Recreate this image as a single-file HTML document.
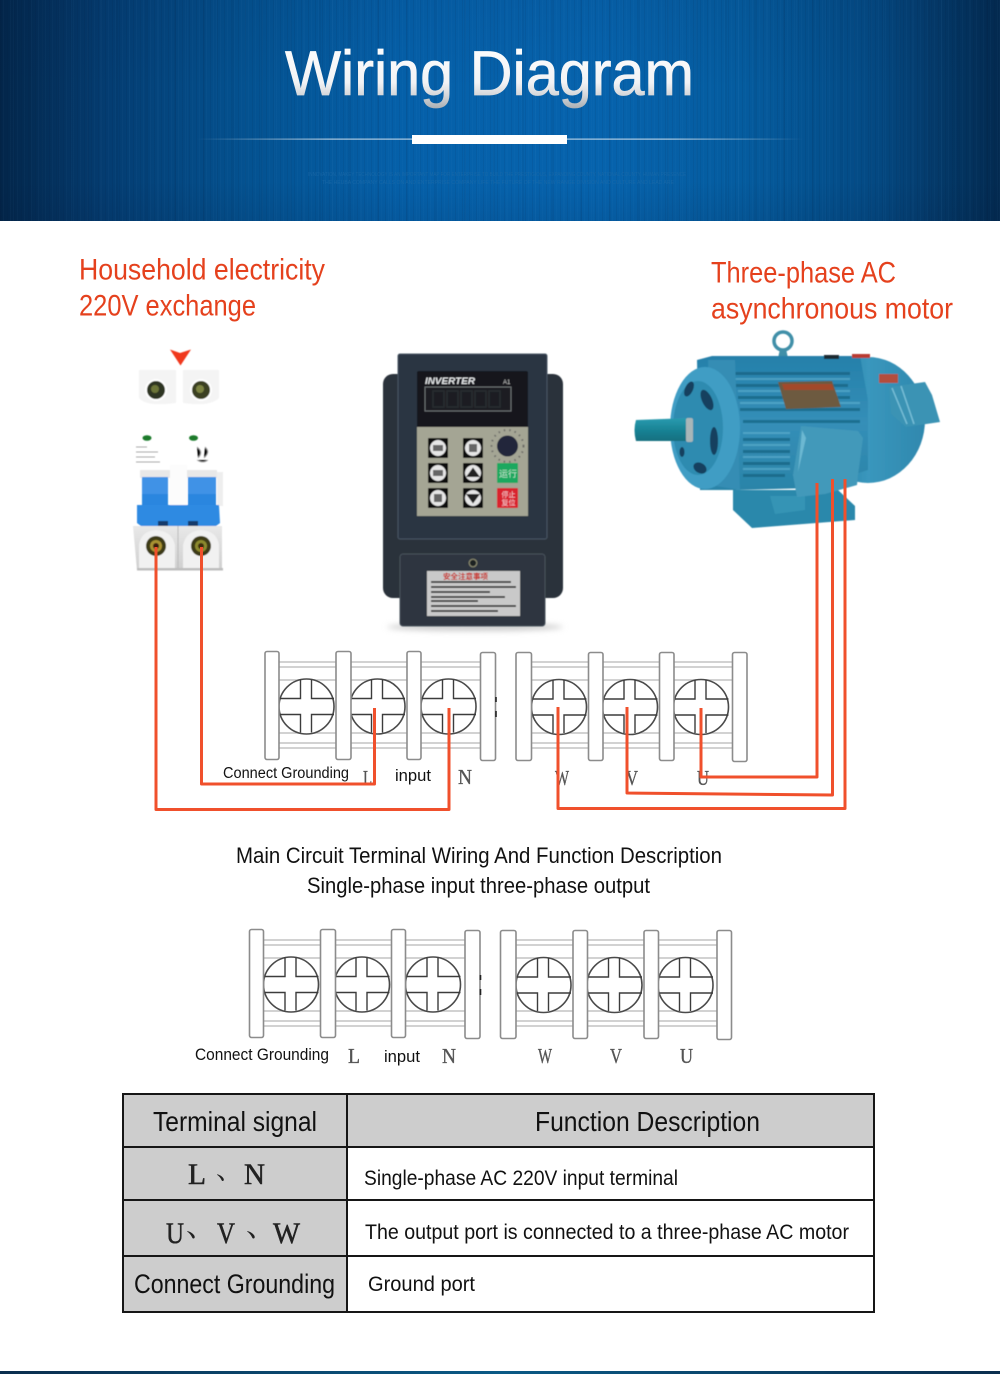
<!DOCTYPE html>
<html><head><meta charset="utf-8"><title>Wiring Diagram</title>
<style>
html,body{margin:0;padding:0;background:#fff}
#p{position:relative;width:1000px;height:1374px;overflow:hidden;background:#fff}
#h{position:absolute;left:0;top:0;width:1000px;height:221px;
background:
repeating-linear-gradient(90deg,rgba(0,20,50,.07) 0 1px,transparent 1px 3px,rgba(120,180,230,.03) 3px 4px,transparent 4px 7px),
repeating-linear-gradient(90deg,rgba(0,15,40,.05) 0 2px,transparent 2px 13px,rgba(100,170,230,.03) 13px 14px,transparent 14px 29px),
linear-gradient(180deg,rgba(0,25,60,.08) 0,rgba(0,20,50,0) 40%,rgba(0,20,50,0) 82%,rgba(0,20,50,.10) 100%),
linear-gradient(90deg,#03264a 0,#043d72 11%,#04518f 24%,#0560a9 40%,#0663ad 60%,#055c9f 74%,#044a84 87%,#032a50 100%)}
#b{position:absolute;left:0;top:1371px;width:1000px;height:3px;background:linear-gradient(90deg,#0a2e4e,#0a5a86 50%,#0a2e4e)}
svg{position:absolute;left:0;top:0}
text{font-family:"Liberation Sans","Noto Sans CJK SC",sans-serif}
.s{font-family:"Liberation Serif","Noto Serif CJK SC",serif}
</style></head><body><div id="p"><div id="h"></div><div id="b"></div>
<svg width="1000" height="1374" viewBox="0 0 1000 1374" xmlns="http://www.w3.org/2000/svg">
<defs>
<linearGradient id="tg" x1="0" y1="0" x2="0" y2="1"><stop offset="0" stop-color="#fff"/><stop offset=".62" stop-color="#f2f3f5"/><stop offset=".8" stop-color="#d5d7da"/><stop offset="1" stop-color="#a9adb2"/></linearGradient>
<linearGradient id="lg"><stop offset="0" stop-color="#fff" stop-opacity="0"/><stop offset=".22" stop-color="#fff" stop-opacity=".8"/><stop offset=".78" stop-color="#fff" stop-opacity=".8"/><stop offset="1" stop-color="#fff" stop-opacity="0"/></linearGradient>
<linearGradient id="shaft" x1="0" y1="0" x2="0" y2="1"><stop offset="0" stop-color="#2a9cb0"/><stop offset=".5" stop-color="#1a8496"/><stop offset="1" stop-color="#136f80"/></linearGradient>
<linearGradient id="bd" x1="0" y1="0" x2="0" y2="1"><stop offset="0" stop-color="#2580aa"/><stop offset=".5" stop-color="#358fb8"/><stop offset="1" stop-color="#2a84a8"/></linearGradient>
<linearGradient id="rc" x1="0" y1="0" x2="1" y2="0"><stop offset="0" stop-color="#1d6f94"/><stop offset=".5" stop-color="#3a97bd"/><stop offset="1" stop-color="#2f88ae"/></linearGradient>
<linearGradient id="gy" x1="0" y1="0" x2="0" y2="1"><stop offset="0" stop-color="#e8e8e8"/><stop offset="1" stop-color="#cfcfcf"/></linearGradient>
<filter id="bl" x="-5%" y="-5%" width="110%" height="110%"><feGaussianBlur stdDeviation=".6"/></filter>
<filter id="bs" x="-20%" y="-100%" width="140%" height="300%"><feGaussianBlur stdDeviation="3"/></filter>
<g id="sc" fill="none" stroke="#3c3c3c" stroke-width="1.400">
<circle cx="0" cy="0" r="27.500" fill="#fff" stroke="#4a4a4a" stroke-width="1.600"/>
<path d="M-6-27V-8H-27.500M5-27V-8H27.500M-27.500 8H-6V26M27.500 8H5V26"/>
</g>
<g id="block">
<g stroke="#c4c4c4" stroke-width="1.400" fill="none">
<path d="M279 662H480M279 667H480M279 680H480M279 733H480M279 743H480M279 748H480"/>
<path d="M532 662H732M532 667H732M532 680H732M532 733H732M532 743H732M532 748H732"/>
</g>
<use href="#sc" x="306.500" y="706.500"/><use href="#sc" x="377.500" y="706.500"/><use href="#sc" x="448.500" y="706.500"/>
<use href="#sc" x="559" y="707"/><use href="#sc" x="630" y="707"/><use href="#sc" x="701" y="707"/>
<g fill="#fff" stroke="#8c8c8c" stroke-width="1.600">
<rect x="265" y="651.500" width="14" height="108" rx="2"/><rect x="336" y="651.500" width="15" height="108" rx="2"/><rect x="407" y="651.500" width="14" height="108" rx="2"/><rect x="480.500" y="652.500" width="15" height="108" rx="2"/>
<rect x="516" y="652.500" width="15.500" height="108" rx="2"/><rect x="588.500" y="652.500" width="14.500" height="108" rx="2"/><rect x="659.500" y="652.500" width="14.500" height="108" rx="2"/><rect x="732.500" y="652.500" width="14.500" height="109" rx="2"/>
</g>
<path d="M496 697V702M496 711V717" stroke="#222" stroke-width="1.600"/>
</g>
</defs>

<!-- header -->
<g fill="#1d6aa8" opacity=".75"><text x="308" y="176" font-size="5.500" textLength="378" lengthAdjust="spacingAndGlyphs">INNOVATION, MAKEY TECHNOLOGY IS AN IMPORTANT MAP FOR ENTERPRISE TO BUILD THE PRESTIGIOUS, EXPANDING COUNTY, NATIONAL COUNTY, HUMAN PRESENCE</text>
<text x="322" y="184" font-size="5.500" textLength="352" lengthAdjust="spacingAndGlyphs">THE HEUBA COMPANY CALLS ON AND ENTERPRISE COMPANY LIFE THE FUTURE OF THE NEW RANGE DIVISION AND CULTURE AND LEAD ARE</text></g>
<text x="285" y="95" font-size="63" fill="url(#tg)" stroke="url(#tg)" stroke-width=".7" textLength="409" lengthAdjust="spacingAndGlyphs">Wiring Diagram</text>
<rect x="197" y="138.600" width="606" height="1" fill="url(#lg)"/>
<rect x="412" y="135" width="155" height="9" fill="#fff"/>

<!-- headings -->
<g fill="#e5411d" font-size="30">
<text x="79" y="279.500" textLength="246" lengthAdjust="spacingAndGlyphs">Household electricity</text>
<text x="79" y="315.500" textLength="177" lengthAdjust="spacingAndGlyphs">220V exchange</text>
<text x="711" y="282.500" textLength="185" lengthAdjust="spacingAndGlyphs">Three-phase AC</text>
<text x="711" y="318.500" textLength="242" lengthAdjust="spacingAndGlyphs">asynchronous motor</text>
</g>

<!-- breaker -->
<g filter="url(#bl)">
<path d="M170 349.500L180 353L191 349.500L180.500 365.500Z" fill="#f0391c"/>
<path d="M139 370V398Q146 407 176 403V370Z" fill="#f4f4f4"/><path d="M183 370V403Q210 407 219 398V370Z" fill="#f4f4f4"/>
<circle cx="156" cy="390" r="11" fill="#fff"/><circle cx="201" cy="390" r="11" fill="#fff"/>
<circle cx="156" cy="390" r="9" fill="#2f3420"/><circle cx="201" cy="390" r="9" fill="#3a4020"/>
<circle cx="155" cy="389" r="4" fill="#6c7538"/><circle cx="200" cy="389" r="4" fill="#7b8342"/>
<ellipse cx="147" cy="438" rx="4.500" ry="2.800" fill="#1c7a2c"/><ellipse cx="193.500" cy="438" rx="4.500" ry="2.800" fill="#1c7a2c"/>
<g stroke="#aaa" stroke-width="1"><path d="M136 447H147M136 452H158M136 457H155M136 462H160"/><path d="M197 447Q204 452 198 458M205 447Q211 452 204 458M197 460Q203 464 208 460"/></g>
<rect x="140" y="470" width="30" height="8" fill="#e8e8e8"/><rect x="187" y="470" width="30" height="8" fill="#e8e8e8"/>
<rect x="170" y="465" width="17" height="40" fill="#fcfcfc"/>
<rect x="217" y="472" width="6" height="34" fill="#eee"/>
<path d="M142 477H168V506H142Z" fill="#3f92e6"/><path d="M188 477H216V506H188Z" fill="#3f92e6"/>
<rect x="142" y="494" width="26" height="12" fill="#2b86df"/><rect x="188" y="494" width="28" height="12" fill="#2b86df"/>
<path d="M137 505H219L220 523L216 526H141L137 523Z" fill="#2e8ae2"/>
<rect x="158" y="521" width="10" height="5" fill="#173b6c"/><rect x="188" y="521" width="10" height="5" fill="#173b6c"/>
<path d="M133 526H222V570H137Z" fill="url(#gy)"/>
<path d="M139 568V545Q141 531 156 530Q172 531 175 545V568Z" fill="#f1f1f1"/><path d="M183 568V545Q186 531 201 530Q217 531 219 545V568Z" fill="#f1f1f1"/>
<path d="M178 526V570" stroke="#bbb" stroke-width="1"/>
<rect x="137" y="568" width="86" height="2.500" fill="#bdbdbd"/>
<circle cx="156" cy="546" r="10" fill="#3c3a18"/><circle cx="201" cy="546" r="10" fill="#3c3a18"/>
<circle cx="156" cy="546" r="6" fill="#a99230"/><circle cx="201" cy="546" r="6" fill="#8d8a2e"/>
<circle cx="156" cy="546" r="3" fill="#3c1f10"/><circle cx="201" cy="546" r="3" fill="#3c2a10"/>
</g>

<!-- inverter -->
<ellipse cx="475" cy="627" rx="88" ry="4" fill="#ccc" filter="url(#bs)"/>
<g filter="url(#bl)">
<rect x="383" y="374" width="180" height="224" rx="10" fill="#2b323a"/>
<rect x="398" y="354" width="149" height="185" rx="2" fill="#2a3442" stroke="#4a5665" stroke-width="1"/>
<rect x="417" y="371" width="111" height="57" rx="2" fill="#14181d"/>
<rect x="425" y="387" width="86" height="24" fill="#1b1f22" stroke="#6b6f72" stroke-width="1"/>
<text x="425" y="384" font-size="9.500" font-style="italic" font-weight="bold" fill="#e4e6e8" textLength="50" lengthAdjust="spacingAndGlyphs">INVERTER</text>
<text x="503" y="384" font-size="6" fill="#bbb">A1</text>
<g fill="none" stroke="#2b2f31" stroke-width="1.500"><rect x="433" y="391" width="11" height="16"/><rect x="447" y="391" width="11" height="16"/><rect x="461" y="391" width="11" height="16"/><rect x="475" y="391" width="11" height="16"/><rect x="489" y="391" width="11" height="16"/></g>
<rect x="417" y="427" width="111" height="89" fill="#a4a594"/>
<g fill="#0f0f10"><rect x="428" y="438" width="20" height="20" rx="1"/><rect x="463" y="438" width="20" height="20" rx="1"/><rect x="428" y="463" width="20" height="20" rx="1"/><rect x="463" y="463" width="20" height="20" rx="1"/><rect x="428" y="488" width="20" height="20" rx="1"/><rect x="463" y="488" width="20" height="20" rx="1"/></g>
<g fill="#e6e6e6"><circle cx="438" cy="448" r="8"/><circle cx="473" cy="448" r="8"/><circle cx="438" cy="473" r="8"/><circle cx="473" cy="473" r="8"/><circle cx="438" cy="498" r="8"/><circle cx="473" cy="498" r="8"/></g>
<g fill="#666"><rect x="433" y="445" width="10" height="6"/><rect x="469" y="444" width="8" height="8"/><rect x="433" y="470" width="10" height="6"/><rect x="434" y="494" width="8" height="8"/></g>
<path d="M473 467.500L480 477H466Z" fill="#222"/><path d="M473 503.500L480 494H466Z" fill="#222"/>
<rect x="497" y="463" width="21" height="20" rx="1" fill="#1fa85e"/><text x="499" y="477" font-size="9" fill="#bfe8cf">运行</text>
<rect x="497" y="488" width="21" height="20" rx="1" fill="#d9212f"/><text x="501.500" y="497" font-size="7" fill="#f6cdd0">停止</text><text x="501.500" y="505" font-size="7" fill="#f6cdd0">复位</text>
<circle cx="507.500" cy="446" r="16" fill="none" stroke="#555" stroke-width="2" stroke-dasharray="1.500 4" opacity=".7"/>
<circle cx="507.500" cy="446" r="10.500" fill="#22283a"/>
<rect x="400" y="554" width="145" height="72" rx="3" fill="#2d3640" stroke="#48525c" stroke-width="1"/>
<circle cx="473" cy="563" r="3.800" fill="#1e2224" stroke="#8a8a70" stroke-width="1.200"/>
<rect x="427" y="571" width="93" height="45" fill="#c9c9c9"/>
<text x="443" y="579" font-size="7.500" fill="#c8281e" font-weight="bold">安全注意事项</text>
<g stroke="#333" stroke-width="1.800"><path d="M431 582H511M431 587H516M431 592H490M431 597H505M431 601H478M431 606H516M431 611H498"/></g>
</g>

<!-- motor -->
<g filter="url(#bl)">
<circle cx="783" cy="341" r="9" fill="none" stroke="#3f8fa8" stroke-width="3.500"/>
<path d="M780 349H786L788 358H778Z" fill="#3f8fa8"/>
<path d="M733 490H838L855 506V520L752 528L733 510Z" fill="#2c88ab"/>
<path d="M770 496H805V510L775 514Z" fill="#3594b5"/>
<ellipse cx="868" cy="420" rx="57" ry="63" fill="url(#rc)"/>
<path d="M697 360L712 356L860 356L868 400L868 470L812 488L735 490L700 490Z" fill="url(#bd)"/>
<g fill="#14617f" opacity=".7"><path d="M732 372H850V375H732ZM732 384H848V387H732ZM738 396H850V399H738ZM740 408H860V411H740ZM743 420H860V423H743ZM743 438H790V441H743ZM743 450H790V453H743ZM743 462H790V465H743ZM743 474H785V477H743Z"/></g>
<g fill="#6cbad6" opacity=".5"><path d="M732 378H850V380H732ZM738 390H850V392H738ZM740 402H860V404H740ZM743 432H790V434H743ZM743 444H790V446H743ZM743 456H790V458H743ZM743 468H790V470H743Z"/></g>
<path d="M778 382L832 381L841 407L786 409Z" fill="#6d5a3f"/><path d="M782 384H832L834 390H784Z" fill="#a24a2c"/>
<path d="M708 360H735L740 490L710 485Z" fill="#358db4"/>
<ellipse cx="705" cy="428" rx="35" ry="61" fill="#3f9dc4"/>
<ellipse cx="698" cy="428" rx="25" ry="47" fill="#2f8bb0"/>
<g fill="#123f5e"><ellipse cx="689" cy="389" rx="4" ry="8" transform="rotate(25 689 389)"/><ellipse cx="707" cy="400" rx="5" ry="11" transform="rotate(-25 707 400)"/><ellipse cx="714" cy="441" rx="4" ry="14"/><ellipse cx="700" cy="468" rx="7" ry="5" transform="rotate(30 700 468)"/><ellipse cx="682" cy="452" rx="2.500" ry="5"/></g>
<path d="M636 420L690 418L692 441L636 441Q633 430 636 420Z" fill="url(#shaft)"/>
<rect x="686" y="418" width="7" height="24" rx="2" fill="#a8b6b8"/>
<path d="M801 426L858 431L863 438L858 475L857 485L825 494L797 497L793 475Z" fill="#4399ba"/>
<path d="M802 430L798 472L806 438Z" fill="#6cb8d2"/>
<path d="M889 387L925 382L932 395L940 422L906 427L891 414Z" fill="#3a93b4"/>
<path d="M892 388L907 424" stroke="#76bdd6" stroke-width="1.500"/><path d="M901 386L914 424" stroke="#76bdd6" stroke-width="1.500"/>
<rect x="879" y="374" width="19" height="9" fill="#b34e3c"/>
<rect x="824" y="355" width="15" height="4" fill="#1c2a33"/><rect x="852" y="354" width="18" height="4" fill="#b93b33"/>
</g>

<!-- terminal blocks -->
<use href="#block"/>
<use href="#block" transform="translate(-15.500,278)"/>

<!-- terminal labels -->
<g fill="#111" font-size="15.500">
<text x="223" y="778" textLength="126" lengthAdjust="spacingAndGlyphs">Connect Grounding</text>
<text x="395" y="781" font-size="17" textLength="36" lengthAdjust="spacingAndGlyphs">input</text>
<text x="195" y="1060" font-size="16.500" textLength="134" lengthAdjust="spacingAndGlyphs">Connect Grounding</text>
<text x="384" y="1062" font-size="17" textLength="36" lengthAdjust="spacingAndGlyphs">input</text>
</g>
<g fill="#555" stroke="#555" stroke-width=".35" font-size="21">
<text class="s" x="363" y="785" textLength="9" lengthAdjust="spacingAndGlyphs">L</text>
<text class="s" x="458" y="784" textLength="14" lengthAdjust="spacingAndGlyphs">N</text>
<text class="s" x="555" y="785" textLength="14" lengthAdjust="spacingAndGlyphs">W</text>
<text class="s" x="626" y="785" textLength="12" lengthAdjust="spacingAndGlyphs">V</text>
<text class="s" x="697" y="785" textLength="12" lengthAdjust="spacingAndGlyphs">U</text>
<text class="s" x="348" y="1063" textLength="12" lengthAdjust="spacingAndGlyphs">L</text>
<text class="s" x="442" y="1063" textLength="14" lengthAdjust="spacingAndGlyphs">N</text>
<text class="s" x="538" y="1063" textLength="14" lengthAdjust="spacingAndGlyphs">W</text>
<text class="s" x="610" y="1063" textLength="12" lengthAdjust="spacingAndGlyphs">V</text>
<text class="s" x="680" y="1063" textLength="13" lengthAdjust="spacingAndGlyphs">U</text>
</g>

<!-- wires -->
<g fill="none" stroke="#f0502c" stroke-width="3" stroke-linejoin="round">
<path d="M156 547V809.500H449V708"/>
<path d="M201.500 547V784H374.500V708"/>
<path d="M701 708V777H817V483"/>
<path d="M627 707V793L832.500 795V479"/>
<path d="M558 707V808.500H845V479"/>
</g>

<!-- captions -->
<g fill="#111" font-size="22">
<text x="236" y="863" textLength="486" lengthAdjust="spacingAndGlyphs">Main Circuit Terminal Wiring And Function Description</text>
<text x="307" y="893" textLength="343" lengthAdjust="spacingAndGlyphs">Single-phase input three-phase output</text>
</g>

<!-- table -->
<rect x="123" y="1094" width="224" height="218" fill="#cdcdcd"/>
<rect x="347" y="1094" width="527" height="53" fill="#cdcdcd"/>
<g fill="none" stroke="#161616" stroke-width="2">
<rect x="123" y="1094" width="751" height="218"/>
<path d="M347 1094V1312M123 1147H874M123 1200H874M123 1256H874"/>
</g>
<g fill="#111">
<text x="153" y="1131" font-size="28" textLength="164" lengthAdjust="spacingAndGlyphs">Terminal signal</text>
<text x="535" y="1131" font-size="28" textLength="225" lengthAdjust="spacingAndGlyphs">Function Description</text>
<text x="134" y="1293" font-size="27" textLength="201" lengthAdjust="spacingAndGlyphs">Connect Grounding</text>
<text x="364" y="1185" font-size="21.500" textLength="314" lengthAdjust="spacingAndGlyphs">Single-phase AC 220V input terminal</text>
<text x="365" y="1239" font-size="21.500" textLength="484" lengthAdjust="spacingAndGlyphs">The output port is connected to a three-phase AC motor</text>
<text x="368" y="1291" font-size="21.500" textLength="107" lengthAdjust="spacingAndGlyphs">Ground port</text>
</g>
<g fill="#222" stroke="#222" stroke-width=".5" font-size="30">
<text class="s" x="188" y="1184" textLength="18" lengthAdjust="spacingAndGlyphs">L</text>
<text class="s" x="216" y="1179" font-size="27" stroke-width="0">、</text>
<text class="s" x="244" y="1184" textLength="21" lengthAdjust="spacingAndGlyphs">N</text>
<text class="s" x="166" y="1243" textLength="18" lengthAdjust="spacingAndGlyphs">U</text>
<text class="s" x="186" y="1236" font-size="30" stroke-width="0">、</text>
<text class="s" x="217" y="1243" textLength="18" lengthAdjust="spacingAndGlyphs">V</text>
<text class="s" x="246" y="1236" font-size="30" stroke-width="0">、</text>
<text class="s" x="273" y="1243" textLength="27" lengthAdjust="spacingAndGlyphs">W</text>
</g>
</svg></div></body></html>
